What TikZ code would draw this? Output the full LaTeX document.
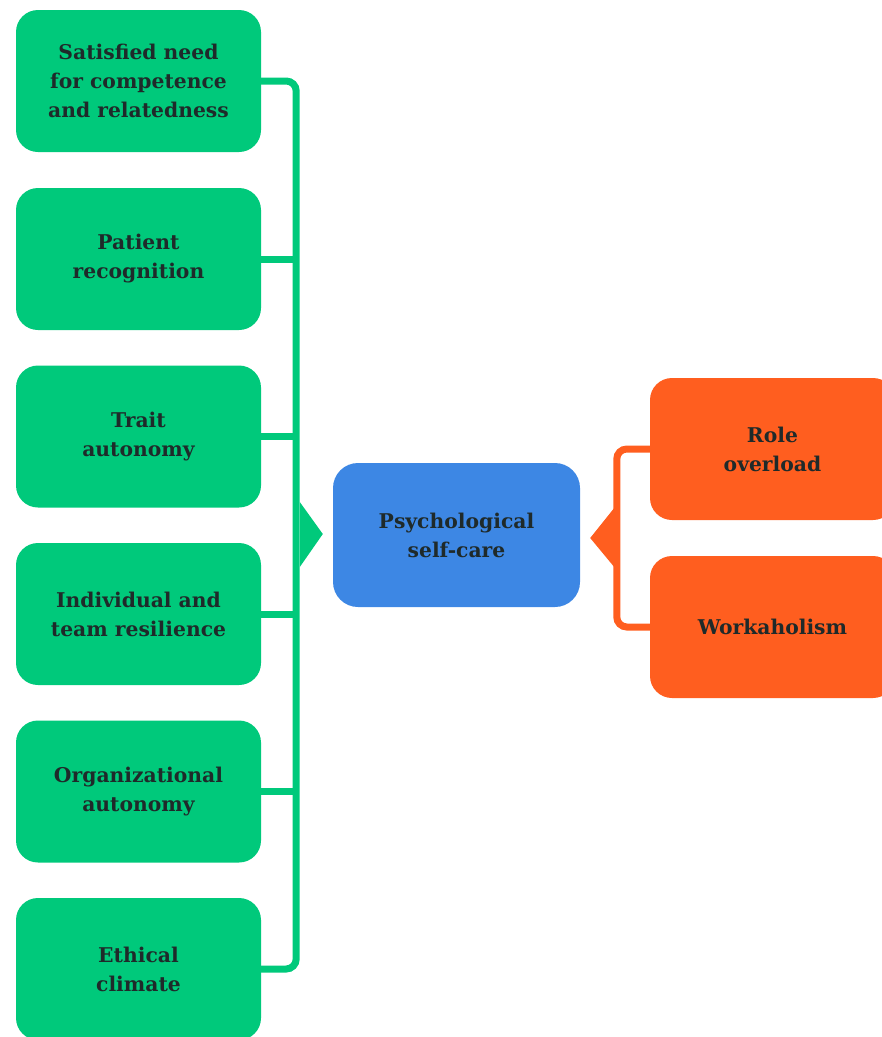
\documentclass[tikz,border=0pt]{standalone}
\usepackage{fontspec}
\setmainfont{DejaVu Serif}
\usetikzlibrary{calc}
\definecolor{gbox}{HTML}{00C97B}
\definecolor{bbox}{HTML}{3D87E4}
\definecolor{obox}{HTML}{FF5E1F}
\definecolor{txt}{HTML}{1F2A2A}
\begin{document}
\begin{tikzpicture}[x=1pt,y=-1pt,
  box/.style={rounded corners=22pt, minimum width=245pt, minimum height=142pt, inner sep=0pt,
    align=center, text=txt, font=\fontsize{20.3}{29}\selectfont\bfseries},
  gnode/.style={box, fill=gbox},
  onode/.style={box, fill=obox},
  bnode/.style={box, fill=bbox, minimum width=247pt, minimum height=144pt, rounded corners=25pt},
  gline/.style={draw=gbox, line width=7pt, rounded corners=10pt},
  oline/.style={draw=obox, line width=7pt, rounded corners=10pt}]
\useasboundingbox (0,0) rectangle (882,1037);
\node[gnode] (g1) at (138.5,81) {Satisfied need\\for competence\\and relatedness};
\node[gnode] (g2) at (138.5,259) {Patient\\recognition};
\node[gnode] (g3) at (138.5,436.5) {Trait\\autonomy};
\node[gnode] (g4) at (138.5,614) {Individual and\\team resilience};
\node[gnode] (g5) at (138.5,791.5) {Organizational\\autonomy};
\node[gnode] (g6) at (138.5,969) {Ethical\\climate};
\node[bnode] (b) at (456.5,535) {Psychological\\self-care};
\node[onode] (o1) at (772.5,449) {Role\\overload};
\node[onode] (o2) at (772.5,627) {Workaholism};
% green bus
\coordinate (gtop) at ($(g1.east)+(35,0)$);
\coordinate (gbot) at ($(g6.east)+(35,0)$);
\draw[gline] (g1.east) -- (gtop) -- (gbot) -- (g6.east);
\foreach \n in {g2,g3,g4,g5}{
  \draw[draw=gbox, line width=7pt] (\n.east) -- ++(36.5,0);
}
\fill[gbox] ($(b.west)+(-33,-33)$) -- ($(b.west)+(-10,-1)$) -- ($(b.west)+(-33,32)$) -- cycle;
% orange bus
\coordinate (otop) at ($(o1.west)+(-33,0)$);
\coordinate (obot) at ($(o2.west)+(-33,0)$);
\draw[oline] (o1.west) -- (otop) -- (obot) -- (o2.west);
\fill[obox] ($(b.east)+(34,-27)$) -- ($(b.east)+(10,3)$) -- ($(b.east)+(34,32)$) -- cycle;
\end{tikzpicture}
\end{document}
